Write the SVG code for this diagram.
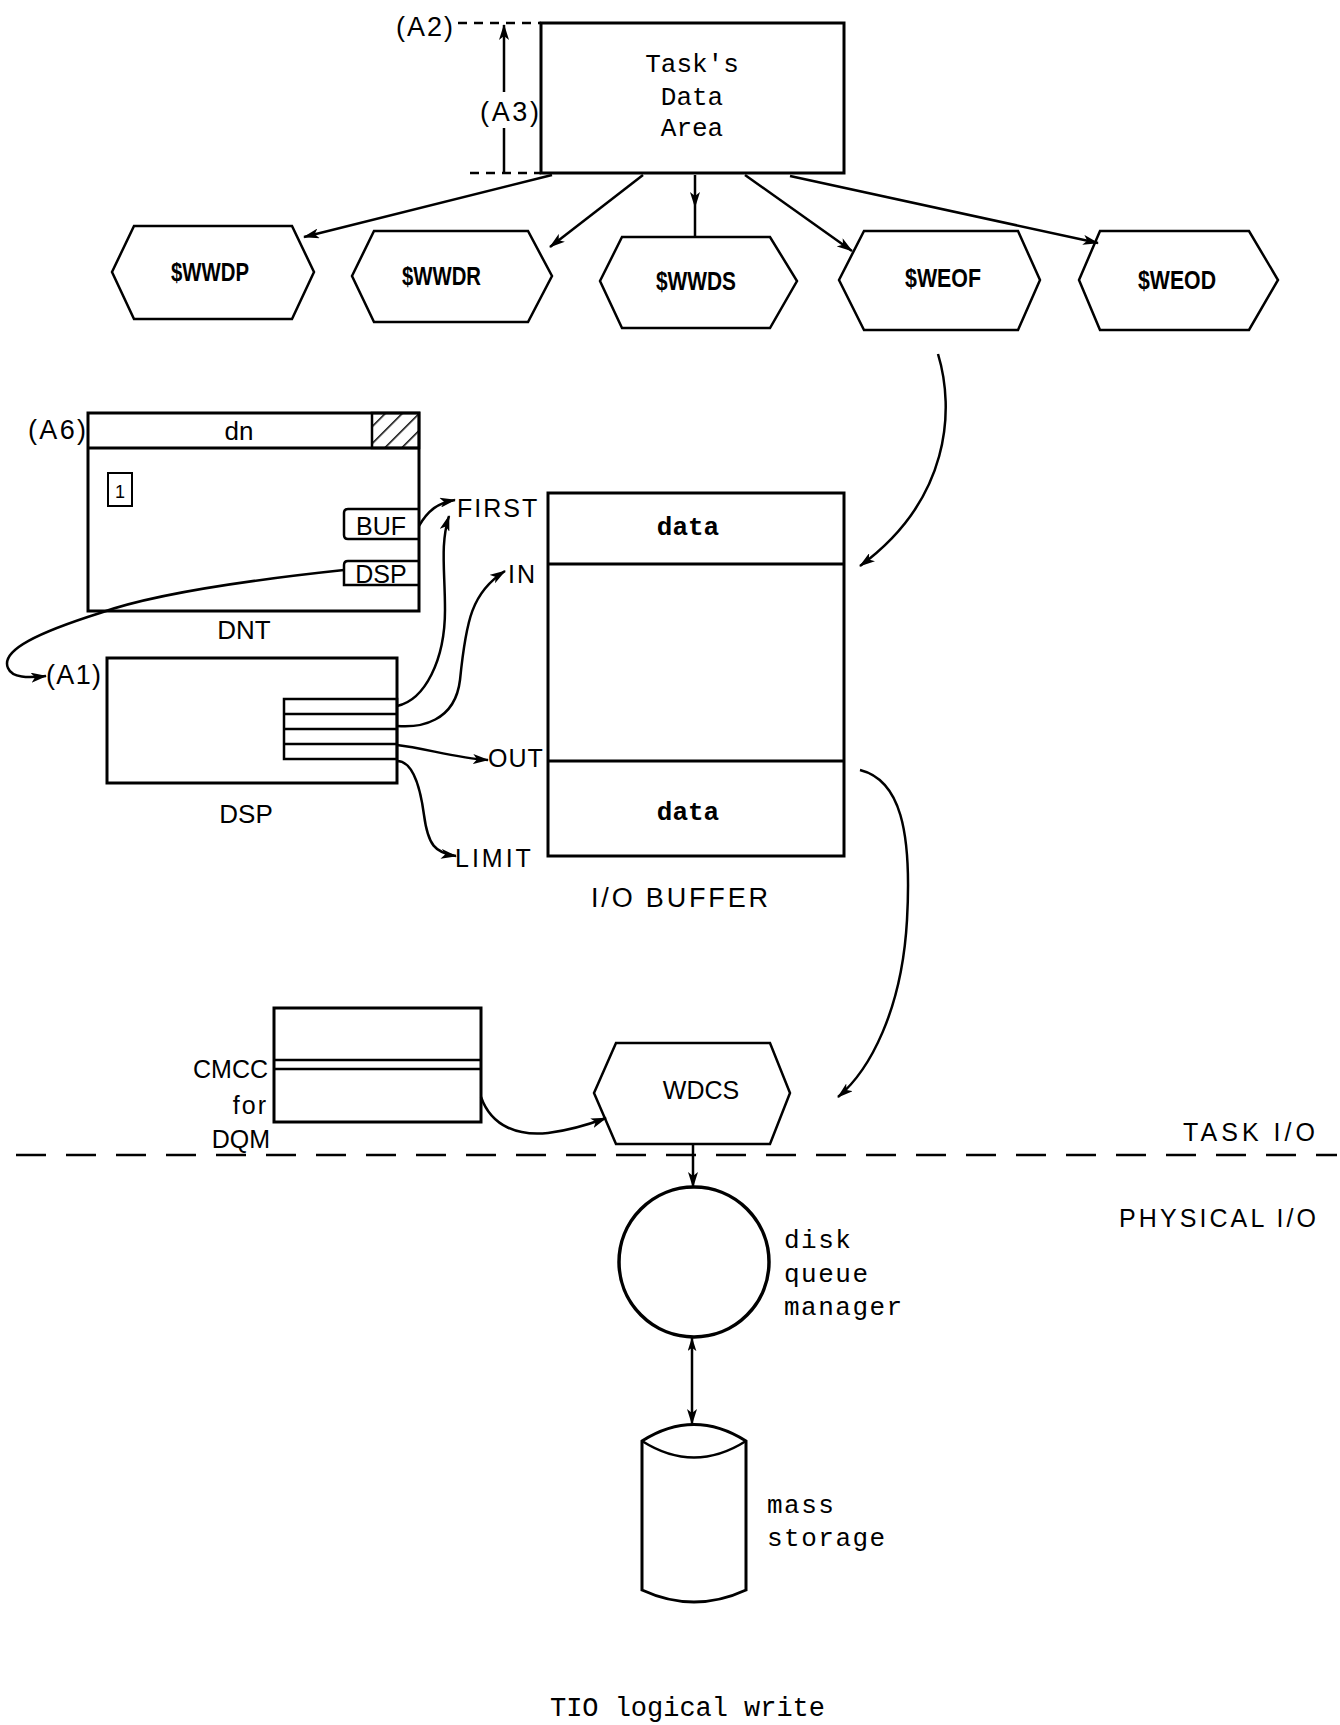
<svg xmlns="http://www.w3.org/2000/svg" width="1340" height="1725" viewBox="0 0 1340 1725">
<style>
.box{fill:#fff;stroke:#000;stroke-width:3}
.thin{fill:none;stroke:#000;stroke-width:2.5}
.hex{fill:#fff;stroke:#000;stroke-width:2.5}
.conn{fill:none;stroke:#000;stroke-width:2.5}
.dash{fill:none;stroke:#000;stroke-width:2.5;stroke-dasharray:9 7}
.data{fill:#dcdcdc;stroke:none}
.mono{font-family:"Liberation Mono","DejaVu Sans Mono",monospace;font-size:26px;fill:#000}
.sans{font-family:"Liberation Sans",Arial,sans-serif;font-size:25px;fill:#000}
.hl{font-family:"Liberation Sans",Arial,sans-serif;font-size:26px;font-weight:bold;fill:#000}
.c{text-anchor:middle}
</style>
<defs>
<marker id="ah" viewBox="0 0 16 10" refX="15" refY="5" markerWidth="16" markerHeight="10" markerUnits="userSpaceOnUse" orient="auto">
<path d="M0,0 L16,5 L0,10 L4,5 Z" fill="#000"/>
</marker>
<marker id="ahs" viewBox="0 0 16 10" refX="1" refY="5" markerWidth="14" markerHeight="9" markerUnits="userSpaceOnUse" orient="auto">
<path d="M16,0 L0,5 L16,10 L12,5 Z" fill="#000"/>
</marker>
<pattern id="hatch" width="12" height="12" patternUnits="userSpaceOnUse" patternTransform="rotate(45)">
<line x1="0" y1="0" x2="0" y2="12" stroke="#000" stroke-width="3"/>
</pattern>
</defs>

<g id="task-data-area">
<rect class="box" x="541" y="23" width="303" height="150"/>
<text class="mono c" x="692" y="72">Task's</text>
<text class="mono c" x="692" y="105">Data</text>
<text class="mono c" x="692" y="136">Area</text>
</g>

<g id="labels-a2-a3">
<text class="sans" x="396" y="36" style="font-size:27px" textLength="57" lengthAdjust="spacing">(A2)</text>
<text class="sans" x="480" y="121" style="font-size:27px" textLength="59" lengthAdjust="spacing">(A3)</text>
<path class="dash" d="M458,23 L541,23"/>
<path class="dash" d="M470,173 L541,173"/>
</g>

<g id="hex-wwdp">
<path class="hex" d="M112,272 L134,226 L292,226 L314,272 L292,319 L134,319 Z"/>
<text class="hl" x="171" y="281" textLength="78" lengthAdjust="spacingAndGlyphs">$WWDP</text>
</g>
<g id="hex-wwdr">
<path class="hex" d="M352,276 L374,231 L528,231 L552,276 L528,322 L374,322 Z"/>
<text class="hl" x="402" y="285" textLength="79" lengthAdjust="spacingAndGlyphs">$WWDR</text>
</g>
<g id="hex-wwds">
<path class="hex" d="M600,281 L622,237 L770,237 L797,281 L770,328 L622,328 Z"/>
<text class="hl" x="656" y="290" textLength="80" lengthAdjust="spacingAndGlyphs">$WWDS</text>
</g>
<g id="hex-weof">
<path class="hex" d="M839,280 L864,231 L1018,231 L1040,280 L1018,330 L864,330 Z"/>
<text class="hl" x="905" y="287" textLength="76" lengthAdjust="spacingAndGlyphs">$WEOF</text>
</g>
<g id="hex-weod">
<path class="hex" d="M1079,280 L1100,231 L1249,231 L1278,280 L1249,330 L1100,330 Z"/>
<text class="hl" x="1138" y="289" textLength="78" lengthAdjust="spacingAndGlyphs">$WEOD</text>
</g>

<g id="dnt">
<rect class="box" x="88" y="413" width="331" height="198"/>
<rect x="372" y="413" width="47" height="35" fill="url(#hatch)" stroke="#000" stroke-width="2.5"/>
<line x1="88" y1="448" x2="419" y2="448" stroke="#000" stroke-width="3"/>
<text class="sans c" x="239" y="440" style="font-size:26px">dn</text>
<rect x="108" y="473" width="24" height="33" fill="#fff" stroke="#000" stroke-width="2"/>
<text class="sans c" x="120" y="498" style="font-size:18px">1</text>
<path class="thin" d="M419,509 L348,509 Q344,509 344,513 L344,535 Q344,539 348,539 L419,539"/>
<text class="sans c" x="381" y="535">BUF</text>
<path class="thin" d="M419,561 L348,561 Q344,561 344,565 L344,585 L419,585"/>
<text class="sans c" x="381" y="583">DSP</text>
<text class="sans" x="28" y="439" style="font-size:27px" textLength="58" lengthAdjust="spacing">(A6)</text>
<text class="sans c" x="244" y="639" style="font-size:26px">DNT</text>
</g>

<g id="dsp">
<rect class="box" x="107" y="658" width="290" height="125"/>
<rect class="thin" x="284" y="699" width="113" height="60" fill="#fff"/>
<line x1="284" y1="714" x2="397" y2="714" stroke="#000" stroke-width="2.5"/>
<line x1="284" y1="729" x2="397" y2="729" stroke="#000" stroke-width="2.5"/>
<line x1="284" y1="744" x2="397" y2="744" stroke="#000" stroke-width="2.5"/>
<text class="sans" x="46" y="684" style="font-size:27px" textLength="55" lengthAdjust="spacing">(A1)</text>
<text class="sans c" x="246" y="823" style="font-size:26px">DSP</text>
</g>

<g id="io-buffer">
<rect class="data" x="548" y="493" width="296" height="71"/>
<rect class="data" x="548" y="761" width="296" height="95"/>
<rect class="box" x="548" y="493" width="296" height="363" fill="none"/>
<line x1="548" y1="564" x2="844" y2="564" stroke="#000" stroke-width="3"/>
<line x1="548" y1="761" x2="844" y2="761" stroke="#000" stroke-width="3"/>
<text class="mono c" x="688" y="535" font-weight="bold">data</text>
<text class="mono c" x="688" y="820" font-weight="bold">data</text>
<text class="sans" x="591" y="907" style="font-size:27px" textLength="177" lengthAdjust="spacing">I/O BUFFER</text>
<text class="sans" x="457" y="517" letter-spacing="2">FIRST</text>
<text class="sans" x="508" y="583" letter-spacing="2">IN</text>
<text class="sans" x="488" y="767" letter-spacing="1">OUT</text>
<text class="sans" x="455" y="867" letter-spacing="3">LIMIT</text>
</g>

<g id="cmcc">
<rect class="box" x="274" y="1008" width="207" height="114"/>
<line x1="274" y1="1060" x2="481" y2="1060" stroke="#000" stroke-width="2.5"/>
<line x1="274" y1="1069" x2="481" y2="1069" stroke="#000" stroke-width="2.5"/>
<text class="sans" x="268" y="1078" text-anchor="end">CMCC</text>
<text class="sans" x="268" y="1114" text-anchor="end" letter-spacing="2">for</text>
<text class="sans" x="270" y="1148" text-anchor="end">DQM</text>
</g>

<g id="wdcs">
<path class="hex" d="M594,1093 L616,1043 L770,1043 L790,1093 L770,1144 L616,1144 Z"/>
<text class="sans c" x="701" y="1099">WDCS</text>
</g>

<g id="boundary">
<path fill="none" stroke="#000" stroke-width="2.5" stroke-dasharray="30 20" d="M16,1155 L1337,1155"/>
<text class="sans" x="1183" y="1141" textLength="132" lengthAdjust="spacing">TASK I/O</text>
<text class="sans" x="1119" y="1227" textLength="197" lengthAdjust="spacing">PHYSICAL I/O</text>
</g>

<g id="disk-queue-manager">
<circle cx="694" cy="1262" r="75" fill="#fff" stroke="#000" stroke-width="3.5"/>
<text class="mono" x="784" y="1248" letter-spacing="1.5">disk</text>
<text class="mono" x="784" y="1282" letter-spacing="1.5">queue</text>
<text class="mono" x="784" y="1315" letter-spacing="1.5">manager</text>
</g>

<g id="mass-storage">
<path class="box" d="M642,1441 Q694,1408 746,1441 L746,1590 Q694,1614 642,1590 Z"/>
<path class="thin" d="M642,1441 Q694,1474 746,1441"/>
<text class="mono" x="767" y="1513" letter-spacing="1.5">mass</text>
<text class="mono" x="767" y="1546" letter-spacing="1.5">storage</text>
</g>

<g id="caption">
<text class="mono" x="550" y="1716" style="font-size:27px" textLength="275" lengthAdjust="spacing">TIO logical write</text>
</g>

<g id="connectors">
<path class="conn" d="M504,173 L504,128 M504,92 L504,25" marker-end="url(#ah)"/>
<path class="conn" d="M552,175 L304,237" marker-end="url(#ah)" stroke-width="3"/>
<path class="conn" d="M643,175 L550,247" marker-end="url(#ah)" stroke-width="3"/>
<path class="conn" d="M695,175 L695,207 L695,237" marker-mid="url(#ah)"/>
<path class="conn" d="M745,175 L852,251" marker-end="url(#ah)" stroke-width="3"/>
<path class="conn" d="M790,176 L1098,243" marker-end="url(#ah)" stroke-width="3.5"/>
<path class="conn" d="M938,354 C955,410 950,500 860,566" marker-end="url(#ah)"/>
<path class="conn" d="M419,526 C428,510 438,503 455,500" marker-end="url(#ah)"/>
<path class="conn" d="M397,706 C425,700 445,660 445,610 C445,570 440,545 449,516" marker-end="url(#ah)"/>
<path class="conn" d="M397,726 C420,728 455,722 460,680 C466,620 472,592 505,571" marker-end="url(#ah)"/>
<path class="conn" d="M397,745 C425,748 455,758 488,760" marker-end="url(#ah)"/>
<path class="conn" d="M397,761 C412,761 420,785 424,815 C428,845 435,853 456,856" marker-end="url(#ah)"/>
<path class="conn" d="M344,570 C250,580 150,595 100,613 C40,632 0,650 8,668 C12,678 28,678 46,676" marker-end="url(#ah)"/>
<path class="conn" d="M860,770 C900,780 912,830 907,920 C902,1010 870,1070 838,1097" marker-end="url(#ah)"/>
<path class="conn" d="M481,1097 C492,1128 520,1136 548,1133 C572,1130 590,1124 606,1118" marker-end="url(#ah)"/>
<path class="conn" d="M693,1144 L693,1187" marker-end="url(#ah)" stroke-width="3"/>
<path class="conn" d="M692,1338 L692,1424" marker-start="url(#ahs)" marker-end="url(#ah)"/>
</g>
</svg>
